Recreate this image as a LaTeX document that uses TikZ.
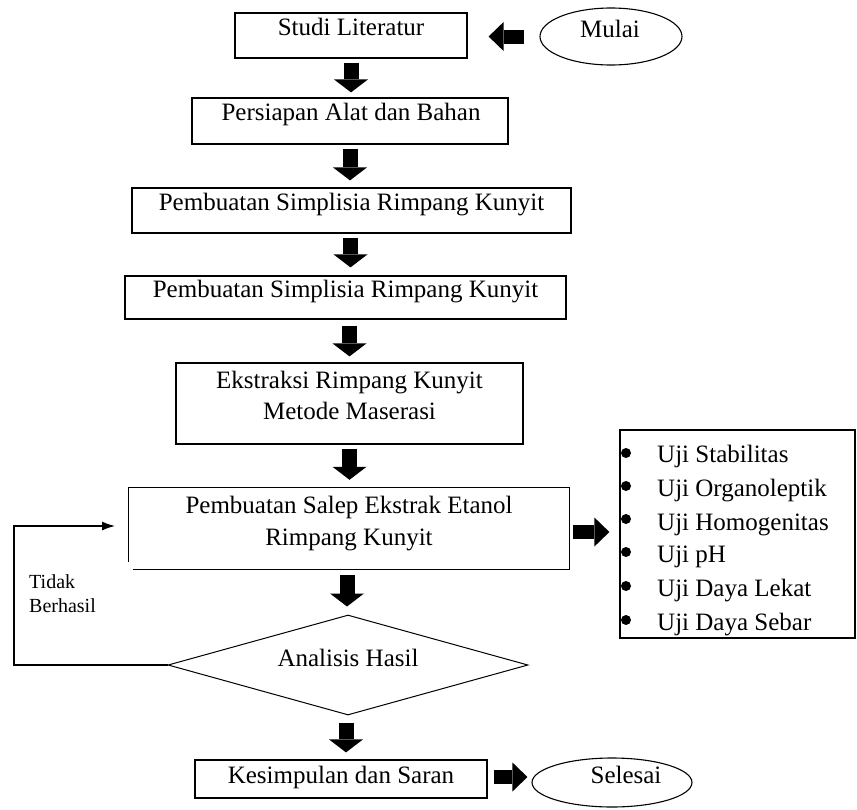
\documentclass[tikz,border=0pt]{standalone}
\usepackage{fontspec}
\setmainfont{Liberation Serif}
\usetikzlibrary{arrows.meta,shapes.geometric}
\begin{document}
\begin{tikzpicture}[x=1pt,y=-1pt,
  boxline/.style={draw=black, line width=1.2pt},
  stepbox/.style={boxline, rectangle, inner sep=0pt},
  oval/.style={draw=black, line width=1.1pt, ellipse, inner sep=0pt},
  decision/.style={draw=black, line width=1pt, diamond, inner sep=0pt},
  txt/.style={font=\fontsize{25}{30}\selectfont, inner sep=0pt, anchor=base},
  itemtxt/.style={font=\fontsize{25}{30}\selectfont, inner sep=0pt, anchor=base west},
  dot/.style={circle, fill=black, inner sep=0pt, minimum size=10pt},
  barrowv/.style={line width=15pt, -{Triangle[length=13pt,width=34pt,line width=0pt]}},
  barrowh/.style={line width=14pt, -{Triangle[length=15pt,width=29pt,line width=0pt]}},
  loopline/.style={draw=black, line width=1.2pt, -{Latex[length=13pt,width=9pt]}}
]
\useasboundingbox (0,0) rectangle (857,809);

% boxes
\node[stepbox, minimum width=232pt, minimum height=45pt] (studi) at (351,35.5) {};
\node[stepbox, minimum width=316pt, minimum height=46pt] (pers) at (350,121) {};
\node[stepbox, minimum width=439pt, minimum height=45pt] (simp1) at (351.5,210.5) {};
\node[stepbox, minimum width=441pt, minimum height=43pt] (simp2) at (345.5,297.5) {};
\node[stepbox, minimum width=347pt, minimum height=81pt] (eks) at (349.5,403.5) {};
\node[rectangle, inner sep=0pt, minimum width=440pt, minimum height=81pt] (salep) at (349,528.5) {};
\draw[boxline] ([xshift=4pt]salep.south west) -- (salep.south east) -- (salep.north east) -- (salep.north west) -- ([yshift=7pt]salep.south west);
\node[decision, minimum width=360pt, minimum height=100pt] (dia) at (348,665) {};
\node[stepbox, minimum width=292pt, minimum height=38pt] (kes) at (341,779) {};
\node[stepbox, minimum width=235pt, minimum height=208pt] (list) at (737.5,534) {};
\node[oval, minimum width=142pt, minimum height=57pt] (mulai) at (611,36.5) {};
\node[oval, minimum width=160pt, minimum height=49pt] (selesai) at (612,782.5) {};

% texts
\node[txt] (tstudi) at (351,35) {Studi Literatur};
\node[txt] (tmulai) at (610,37) {Mulai};
\node[txt] (tpers) at (351,120) {Persiapan Alat dan Bahan};
\node[txt] (tsimp1) at (351.5,210) {Pembuatan Simplisia Rimpang Kunyit};
\node[txt] (tsimp2) at (345.5,297) {Pembuatan Simplisia Rimpang Kunyit};
\node[txt] (teks1) at (349.5,388) {Ekstraksi Rimpang Kunyit};
\node[txt] (teks2) at (349.5,419) {Metode Maserasi};
\node[txt] (tsal1) at (349,513) {Pembuatan Salep Ekstrak Etanol};
\node[txt] (tsal2) at (349,545) {Rimpang Kunyit};
\node[txt] (tdia) at (348,666) {Analisis Hasil};
\node[txt] (tkes) at (341,783) {Kesimpulan dan Saran};
\node[txt] (tsel) at (626,783) {Selesai};
\node[font=\fontsize{20}{24}\selectfont, inner sep=0pt, anchor=north west, align=left] (tidak) at (29,574) {Tidak\\Berhasil};

% list
\foreach \i/\y/\b/\t in {1/453/462/Uji Stabilitas, 2/486/496/Uji Organoleptik, 3/519/530/Uji Homogenitas, 4/552/562/Uji pH, 5/586/596/Uji Daya Lekat, 6/620/630/Uji Daya Sebar}{
  \node[dot] (bu\i) at (626,\y) {};
  \node[itemtxt] (li\i) at (657,\b) {\t};
}

% block arrows
\draw[barrowv] ([yshift=-4pt]studi.south) -- ([yshift=5pt]studi.south |- pers.north);
\draw[barrowv] ([yshift=-4pt]pers.south) -- ([yshift=7pt]pers.south |- simp1.north);
\draw[barrowv] ([yshift=-4pt,xshift=-1pt]simp1.south) -- ([yshift=8pt,xshift=-1pt]simp1.south |- simp2.north);
\draw[barrowv] ([yshift=-6pt,xshift=4pt]simp2.south) -- ([yshift=6pt,xshift=4pt]simp2.south |- eks.north);
\draw[barrowv] ([yshift=-4pt]eks.south) -- ([yshift=8pt]eks.south |- salep.north);
\draw[barrowv] ([yshift=-6pt,xshift=-2pt]salep.south) -- ([yshift=8pt,xshift=-2pt]salep.south |- dia.north);
\draw[barrowv] ([yshift=-7pt,xshift=-2pt]dia.south) -- ([yshift=7pt,xshift=-2pt]dia.south |- kes.north);
\draw[barrowh] ([xshift=-15pt]mulai.west) -- ([xshift=21pt]studi.east |- mulai.west);
\draw[barrowh] ([xshift=4pt,yshift=-3.5pt]salep.east) -- ([xshift=-10pt]list.west |- 0,532);
\draw[barrowh] ([xshift=6pt,yshift=2pt]kes.east) -- ([xshift=-4pt,yshift=2pt]selesai.west |- kes.east);

% loop back
\coordinate (loopend) at (115,526);
\draw[loopline] (dia.west) -- (14,665) -- (14,526) -- (loopend);
\end{tikzpicture}
\end{document}
